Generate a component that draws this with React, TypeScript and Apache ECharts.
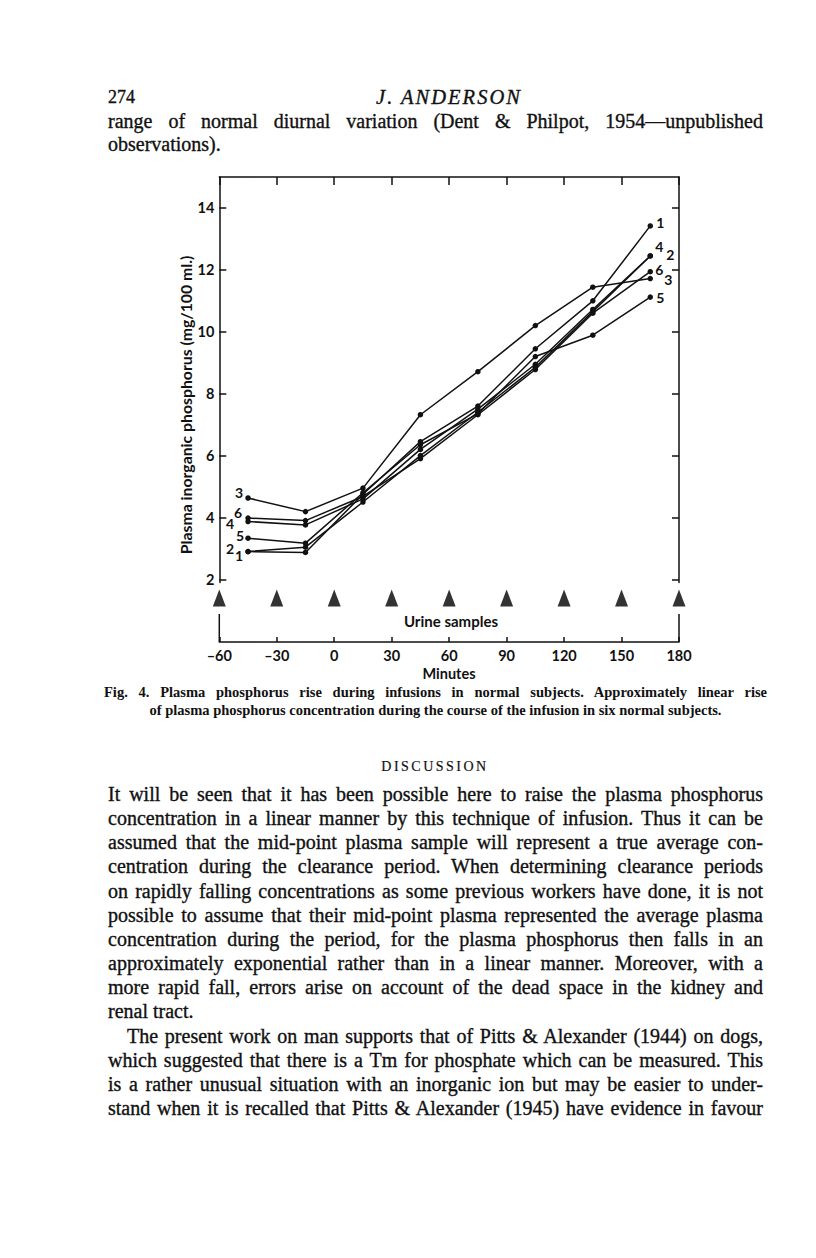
import React, { useEffect, useRef } from "react";
import * as echarts from "echarts";

// ---------------- DATA ----------------
const minutes = [-45, -15, 15, 45, 75, 105, 135, 165];
const subjectNames = ["1", "2", "3", "4", "5", "6"];
const subject1 = [2.9, 2.87, 4.75, 6.45, 7.6, 9.45, 11.0, 13.42];
const subject2 = [2.9, 3.04, 4.5, 6.0, 7.4, 8.85, 10.65, 12.45];
const subject3 = [4.63, 4.19, 4.95, 7.32, 8.71, 10.2, 11.44, 11.72];
const subject4 = [3.87, 3.76, 4.6, 6.2, 7.5, 8.95, 10.72, 12.45];
const subject5 = [3.33, 3.17, 4.8, 6.35, 7.35, 9.2, 9.89, 11.12];
const subject6 = [3.98, 3.9, 4.68, 5.9, 7.32, 8.78, 10.6, 11.94];
const subjectValues = [subject1, subject2, subject3, subject4, subject5, subject6];
const urineSampleTimes = [-60, -30, 0, 30, 60, 90, 120, 150, 180];
const yTickValues = [2, 4, 6, 8, 10, 12, 14];
const yAxisTitle = "Plasma inorganic phosphorus (mg/100 ml.)";
const xAxisTitle = "Minutes";
const urineTitle = "Urine samples";

// ---------------- STYLES ----------------
const startLabelOffsets = [
  [-9, 4],
  [-18, -3],
  [-9, -5],
  [-18, 2],
  [-8, -3],
  [-10, -6],
];
const endLabelOffsets = [
  [10, -3],
  [20, -1],
  [18, 1],
  [9, -9],
  [10, 0],
  [9, -2],
];
const INK = "#111";
const sansFont = "Lato";

const headerLines = [
  { text: "range of normal diurnal variation (Dent & Philpot, 1954\u2014unpublished", justify: true },
  { text: "observations).", justify: false },
];
const captionLine1 =
  "Fig. 4. Plasma phosphorus rise during infusions in normal subjects. Approximately linear rise";
const captionLine2 =
  "of plasma phosphorus concentration during the course of the infusion in six normal subjects.";
const bodyLines = [
  { text: "It will be seen that it has been possible here to raise the plasma phosphorus", justify: true, indent: 0 },
  { text: "concentration in a linear manner by this technique of infusion. Thus it can be", justify: true, indent: 0 },
  { text: "assumed that the mid-point plasma sample will represent a true average con-", justify: true, indent: 0 },
  { text: "centration during the clearance period. When determining clearance periods", justify: true, indent: 0 },
  { text: "on rapidly falling concentrations as some previous workers have done, it is not", justify: true, indent: 0 },
  { text: "possible to assume that their mid-point plasma represented the average plasma", justify: true, indent: 0 },
  { text: "concentration during the period, for the plasma phosphorus then falls in an", justify: true, indent: 0 },
  { text: "approximately exponential rather than in a linear manner. Moreover, with a", justify: true, indent: 0 },
  { text: "more rapid fall, errors arise on account of the dead space in the kidney and", justify: true, indent: 0 },
  { text: "renal tract.", justify: false, indent: 0 },
  { text: "The present work on man supports that of Pitts & Alexander (1944) on dogs,", justify: true, indent: 19 },
  { text: "which suggested that there is a Tm for phosphate which can be measured. This", justify: true, indent: 0 },
  { text: "is a rather unusual situation with an inorganic ion but may be easier to under-", justify: true, indent: 0 },
  { text: "stand when it is recalled that Pitts & Alexander (1945) have evidence in favour", justify: true, indent: 0 },
];

function TextLine(props: {
  x: number;
  y: number;
  w: number;
  text: string;
  size: number;
  align: string;
  lh?: number;
  extra?: any;
}) {
  const lh = props.lh || 24;
  return (
    <div
      style={{
        position: "absolute",
        left: props.x,
        top: props.y - lh / 2,
        width: props.w,
        height: lh,
        lineHeight: lh + "px",
        fontSize: props.size,
        textAlign: props.align as any,
        textAlignLast: props.align as any,
        color: INK,
        fontFamily: "'Liberation Serif', serif",
        WebkitTextStroke: "0.35px " + INK,
        ...(props.extra || {}),
      }}
    >
      {props.text}
    </div>
  );
}

function buildOption() {
  const labelStyle = {
    fontFamily: sansFont,
    fontWeight: "bold" as const,
    fontSize: 14,
    color: INK,
  };
  const subjectSeries = subjectValues.map((vals, i) => ({
    type: "line",
    name: subjectNames[i],
    xAxisIndex: 0,
    yAxisIndex: 0,
    symbol: "circle",
    symbolSize: 5.5,
    itemStyle: { color: INK },
    lineStyle: { color: INK, width: 1.5 },
    label: { show: false },
    data: vals.map((v, j) => {
      const item: any = { value: [minutes[j], v] };
      if (j === 0) {
        item.label = { show: true, position: "inside", offset: startLabelOffsets[i], formatter: subjectNames[i], ...labelStyle };
      }
      if (j === vals.length - 1) {
        item.label = { show: true, position: "inside", offset: endLabelOffsets[i], formatter: subjectNames[i], ...labelStyle };
      }
      return item;
    }),
  }));

  const axisLineStyle = { color: INK, width: 1.5 };
  const gridLeft = 219.3;
  const gridWidth = 459.7;

  return {
    animation: false,
    grid: [
      { left: gridLeft, top: 177, width: gridWidth, height: 405.5 },
      { left: gridLeft, top: 586, width: gridWidth, height: 56 },
    ],
    xAxis: [
      {
        type: "value",
        gridIndex: 0,
        min: -60,
        max: 180,
        interval: 30,
        position: "top",
        axisLine: { show: true, onZero: false, lineStyle: axisLineStyle },
        axisTick: { show: true, inside: true, length: 8, lineStyle: axisLineStyle },
        axisLabel: { show: false },
        splitLine: { show: false },
      },
      {
        type: "value",
        gridIndex: 1,
        min: -60,
        max: 180,
        interval: 30,
        position: "bottom",
        axisLine: { show: true, onZero: false, lineStyle: axisLineStyle },
        axisTick: { show: true, inside: true, length: 5, lineStyle: axisLineStyle },
        axisLabel: {
          show: true,
          margin: 6,
          ...labelStyle,
          fontSize: 14.5,
          formatter: (v: number) => (v < 0 ? "\u2013" + Math.abs(v) : String(v)),
        },
        splitLine: { show: false },
      },
    ],
    yAxis: [
      {
        type: "value",
        gridIndex: 0,
        min: 1.9,
        max: 15,
        position: "left",
        axisLine: { show: true, onZero: false, lineStyle: axisLineStyle },
        axisTick: { show: true, inside: true, length: 7, customValues: yTickValues, lineStyle: axisLineStyle },
        axisLabel: { show: true, margin: 5, customValues: yTickValues, ...labelStyle, fontSize: 14.5 },
        splitLine: { show: false },
      },
      {
        type: "value",
        gridIndex: 0,
        min: 1.9,
        max: 15,
        position: "right",
        axisLine: { show: true, onZero: false, lineStyle: axisLineStyle },
        axisTick: { show: true, inside: true, length: 7, customValues: yTickValues, lineStyle: axisLineStyle },
        axisLabel: { show: false },
        splitLine: { show: false },
      },
      {
        type: "value",
        gridIndex: 1,
        min: 0,
        max: 1,
        show: false,
        axisLine: { onZero: false },
      },
    ],
    graphic: [
      {
        type: "text",
        x: 185,
        y: 405,
        rotation: Math.PI / 2,
        style: {
          text: yAxisTitle,
          fontFamily: sansFont,
          fontWeight: "bold",
          fontSize: 15.8,
          fill: INK,
          align: "center",
          verticalAlign: "middle",
        },
      },
      {
        type: "text",
        x: 451,
        y: 621,
        style: {
          text: urineTitle,
          fontFamily: sansFont,
          fontWeight: "bold",
          fontSize: 15,
          fill: INK,
          align: "center",
          verticalAlign: "middle",
        },
      },
      {
        type: "text",
        x: 449,
        y: 673,
        style: {
          text: xAxisTitle,
          fontFamily: sansFont,
          fontWeight: "bold",
          fontSize: 14.5,
          fill: INK,
          align: "center",
          verticalAlign: "middle",
        },
      },
    ],
    series: [
      ...subjectSeries,
      {
        type: "scatter",
        name: "Urine samples",
        xAxisIndex: 1,
        yAxisIndex: 2,
        clip: false,
        symbol: "triangle",
        symbolSize: [13, 17],
        itemStyle: { color: "#000" },
        data: urineSampleTimes.map((t) => [t, 0.786]),
      },
      {
        type: "line",
        xAxisIndex: 1,
        yAxisIndex: 2,
        symbol: "none",
        lineStyle: { color: INK, width: 1.5 },
        data: [
          [urineSampleTimes[0], 0.5],
          [urineSampleTimes[0], 0],
        ],
      },
      {
        type: "line",
        xAxisIndex: 1,
        yAxisIndex: 2,
        symbol: "none",
        lineStyle: { color: INK, width: 1.5 },
        data: [
          [urineSampleTimes[urineSampleTimes.length - 1], 0],
          [urineSampleTimes[urineSampleTimes.length - 1], 0.5],
        ],
      },
    ],
  };
}

export default function App() {
  const ref = useRef<HTMLDivElement>(null);
  useEffect(() => {
    if (!ref.current) return;
    const chart = echarts.init(ref.current, null, { renderer: "svg" });
    chart.setOption(buildOption() as any);
    return () => chart.dispose();
  }, []);

  const bodyLeft = 108;
  const bodyWidth = 655;
  const bodyTop = 794;
  const bodyStep = 24.15;

  return (
    <div
      style={{
        position: "absolute",
        left: 0,
        top: 0,
        width: 816,
        height: 1258,
        background: "#fff",
        overflow: "hidden",
      }}
    >
      <div ref={ref} style={{ position: "absolute", left: 0, top: 0, width: 816, height: 1258 }} />
      <TextLine x={108} y={97} w={60} text="274" size={18} align="left" />
      <TextLine
        x={329}
        y={97}
        w={240}
        text="J. ANDERSON"
        size={20.5}
        align="center"
        extra={{ fontStyle: "italic", letterSpacing: "2px" }}
      />
      {headerLines.map((l, i) => (
        <TextLine
          key={"h" + i}
          x={bodyLeft}
          y={121 + i * 23}
          w={bodyWidth}
          text={l.text}
          size={20}
          align={l.justify ? "justify" : "left"}
        />
      ))}
      <TextLine x={104} y={692} w={663} text={captionLine1} size={14.5} align="justify" lh={18} extra={{ fontWeight: "bold", WebkitTextStroke: "0px" }} />
      <TextLine x={104} y={710} w={663} text={captionLine2} size={14.5} align="center" lh={18} extra={{ fontWeight: "bold", WebkitTextStroke: "0px" }} />
      <TextLine x={305} y={767} w={260} text="DISCUSSION" size={14} align="center" extra={{ letterSpacing: "2.5px", WebkitTextStroke: "0.2px #111" }} />
      {bodyLines.map((l, i) => (
        <TextLine
          key={"b" + i}
          x={bodyLeft + l.indent}
          y={bodyTop + i * bodyStep}
          w={bodyWidth - l.indent}
          text={l.text}
          size={20}
          align={l.justify ? "justify" : "left"}
        />
      ))}
    </div>
  );
}
